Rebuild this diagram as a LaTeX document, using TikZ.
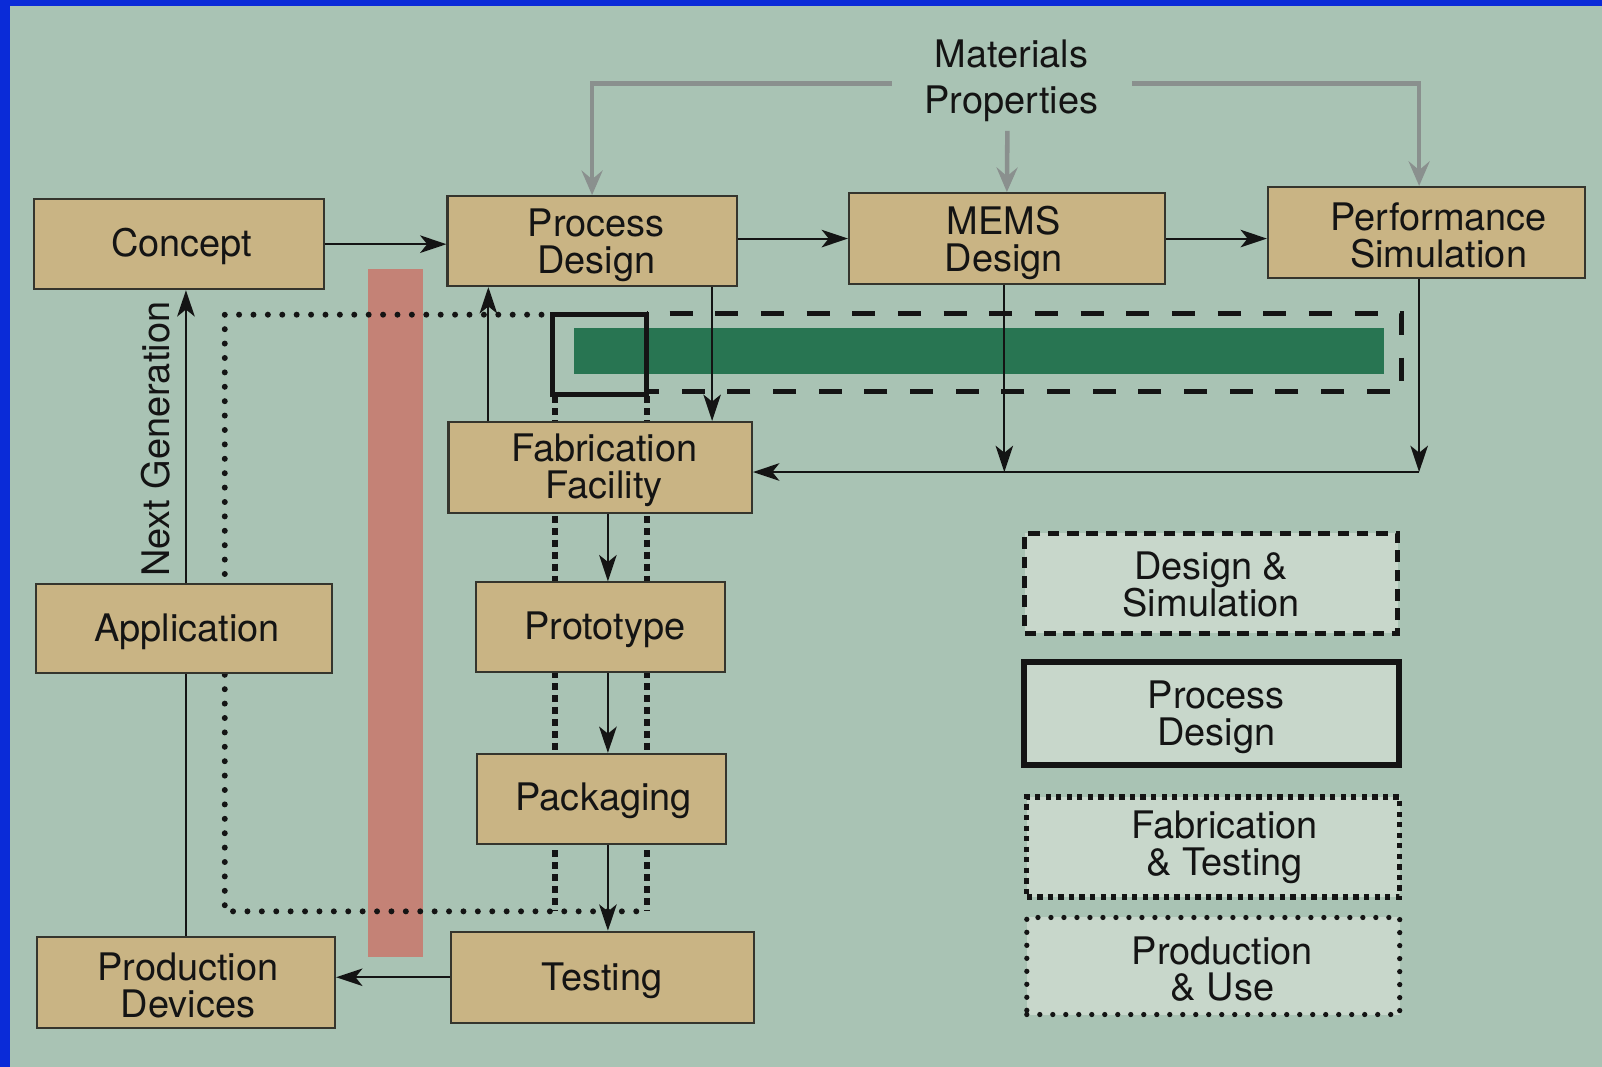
\documentclass[tikz,border=0pt]{standalone}
\usepackage{fontspec}
\setmainfont{TeX Gyre Heros}
\usetikzlibrary{arrows.meta,calc}
\definecolor{bg}{HTML}{A9C3B4}
\definecolor{frameblue}{HTML}{0A2BD8}
\definecolor{boxfill}{HTML}{C9B484}
\definecolor{boxline}{HTML}{35352D}
\definecolor{ink}{HTML}{141414}
\definecolor{legfill}{HTML}{C8D7CB}
\definecolor{redbar}{HTML}{C48276}
\definecolor{greenbar}{HTML}{287552}
\definecolor{grayline}{HTML}{8A908E}
\newcommand\figfont{\fontsize{10.8}{10.5}\selectfont}
\newcommand\uu{0.010217cm}
% style, x1, y1, x2, y2, name, text, dx, dy
\newcommand\rbox[9]{%
  \node[#1, minimum width={(#4-#2)*\uu}, minimum height={(#5-#3)*\uu}] (#6) at ({(#2+#4)/2},{(#3+#5)/2}) {};
  \node[boxtext] (#6-t) at ($(#6.center)+(#8,#9)$) {#7};}
\tikzset{
  box/.style={draw=boxline, fill=boxfill, line width=0.6pt, inner sep=0pt},
  boxtext/.style={inner sep=0pt, align=center, text=ink, font=\figfont},
  legend/.style={box, fill=legfill, draw=ink},
  arr/.style={draw=ink, line width=0.6pt, -{Stealth[length=7.5pt,width=5pt,inset=2pt]}},
  plainline/.style={draw=ink, line width=0.6pt},
  garr/.style={draw=grayline, line width=1.3pt, -{Stealth[length=7pt,width=6pt,inset=2.5pt]}},
  rounddots/.style={draw=ink, line width=1.7pt, line cap=round, dash pattern=on 0pt off 4.1pt},
  sqdots/.style={draw=ink, line width=1.6pt, dash pattern=on 2pt off 1.4pt},
  dashline/.style={draw=ink, line width=1.45pt, dash pattern=on 6.6pt off 6.4pt, dash phase=6.5pt},
  thickline/.style={draw=ink, line width=1.45pt}
}
\begin{document}
\begin{tikzpicture}[x=0.010217cm, y=-0.010217cm]
\useasboundingbox (0,0) rectangle (1568,1044);
% background and frame
\fill[bg] (0,0) rectangle (1568,1044);
\fill[frameblue] (0,0) rectangle (10,1044);
\fill[frameblue] (0,0) rectangle (1568,5.7);
% coloured bars
\fill[redbar] (360,263) rectangle (414,937);
\fill[greenbar] (562,321) rectangle (1355,366);
% regions
\draw[rounddots] (530,308) -- (220,308) -- (220,892) -- (636,892);
\draw[sqdots] (543,388) -- (543,892);
\draw[sqdots] (633,388) -- (633,892);
\draw[thickline] (541,308) rectangle (633,386);
\draw[dashline] (633,307) -- (1372,307) -- (1372,383) -- (633,383);
% column coordinates
\coordinate (xa) at (697,0);
\coordinate (xb) at (478,0);
\coordinate (xc) at (983,0);
\coordinate (xd) at (1389,0);
\coordinate (xe) at (595,0);
\coordinate (xf) at (182,0);
\coordinate (yh) at (0,462);
\coordinate (gl) at (873,82);
\coordinate (gr) at (1108,82);
\coordinate (gm) at (986,128);
% boxes
\rbox{box}{33}{195}{317}{283}{concept}{Concept}{3}{2}
\rbox{box}{438}{192}{721}{280}{pd}{Process\\Design}{4}{4}
\rbox{box}{831}{189}{1140}{278}{mems}{MEMS\\Design}{-3}{4}
\rbox{box}{1241}{183}{1551}{272}{perf}{Performance\\Simulation}{12}{3}
\rbox{box}{439}{413}{736}{502}{fab}{Fabrication\\Facility}{4}{3}
\rbox{box}{466}{570}{710}{658}{proto}{Prototype}{4}{2}
\rbox{box}{467}{738}{711}{826}{pack}{Packaging}{2}{2}
\rbox{box}{441}{912}{738}{1001}{test}{Testing}{0}{3}
\rbox{box}{35}{572}{325}{659}{app}{Application}{3}{3}
\rbox{box}{36}{917}{328}{1006}{prod}{Production\\Devices}{2}{3}
% legend
\rbox{legend, line width=1.3pt, dash pattern=on 3.3pt off 2.2pt}{1003}{522}{1368}{620}{lgds}{Design \&\\Simulation}{0}{1}
\rbox{legend, line width=1.7pt}{1002}{648}{1369}{749}{lgpd}{Process\\Design}{5}{4}
\rbox{legend, line width=1.5pt, dash pattern=on 1.5pt off 1.5pt}{1005}{780}{1370}{878}{lgft}{Fabrication\\\& Testing}{11}{0}
\rbox{legend, line width=1.5pt, line cap=round, dash pattern=on 0pt off 3.7pt}{1005}{898}{1370}{993}{lgpu}{Production\\\& Use}{9}{3}
% materials properties
\node[align=center, text=ink, font={\fontsize{10.8}{12.9}\selectfont}, inner sep=0pt] (mat) at (990,79) {Materials\\Properties};
\draw[garr] (gl) -| (pd.north);
\draw[garr] (gr) -| (xd |- perf.north);
\draw[garr] (gm) -- (mems.north);
% flow arrows
\draw[arr] (concept.east) -- (concept.east -| pd.west);
\draw[arr] (mems.west -| pd.east) -- (mems.west);
\draw[arr] (mems.east) -- (mems.east -| perf.west);
\draw[arr] (xa |- pd.south) -- (xa |- fab.north);
\draw[arr] (xb |- fab.north) -- (xb |- pd.south);
\draw[arr] (xc |- mems.south) -- (xc |- yh);
\draw[arr] (xd |- perf.south) -- (xd |- yh);
\draw[arr] (xd |- yh) -- (fab.east |- yh);
\draw[arr] (xe |- fab.south) -- (xe |- proto.north);
\draw[arr] (xe |- proto.south) -- (xe |- pack.north);
\draw[arr] (xe |- pack.south) -- (xe |- test.north);
\draw[arr] (test.west) -- (test.west -| prod.east);
\draw[plainline] (xf |- prod.north) -- (xf |- app.south);
\draw[arr] (xf |- app.north) -- (xf |- concept.south);
\node[rotate=90, text=ink, font=\figfont, inner sep=0pt] (ng) at (152,430) {Next Generation};
\end{tikzpicture}
\end{document}
